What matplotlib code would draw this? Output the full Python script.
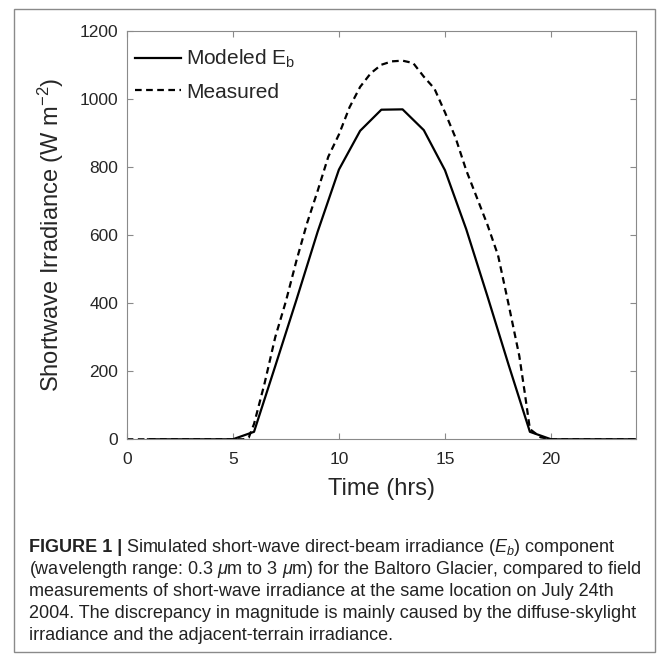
import numpy as np
import matplotlib
matplotlib.use('Agg')
from matplotlib import pyplot as plt
from matplotlib.patches import Rectangle

# hourly modeled direct-beam irradiance (W m-2)
hrs_model = [1, 2, 3, 4, 5, 6, 7, 8, 9, 10, 11, 12,
             13, 14, 15, 16, 17, 18, 19, 20, 21, 22, 23, 24]
eb_model = [0, 0, 0, 0, 0, 22, 215, 410, 610, 792, 906, 968,
            969, 908, 790, 617, 420, 218, 22, 0, 0, 0, 0, 0]

hrs_meas = [0, 1, 2, 3, 4, 5, 5.5, 5.75, 6, 6.5, 7, 7.5, 8, 8.5, 9, 9.5,
            10, 10.5, 11, 11.5, 12, 12.5, 13, 13.5, 14, 14.5, 15, 15.5,
            16, 16.5, 17, 17.5, 18, 18.5, 18.75, 19, 19.5, 20, 21, 22, 23, 24]
sw_meas = [0, 0, 0, 0, 0, 0, 0, 5, 45, 165, 300, 405, 525, 635, 730, 830,
           895, 975, 1035, 1075, 1100, 1110, 1112, 1105, 1065, 1030, 960, 885,
           790, 710, 630, 540, 395, 245, 140, 30, 6, 0, 0, 0, 0, 0]

xticks = [0, 5, 10, 15, 20]
yticks = [0, 200, 400, 600, 800, 1000, 1200]

caption = [
    'Simulated short-wave direct-beam irradiance ($E_b$) component',
    '(wavelength range: 0.3 $\\mu$m to 3 $\\mu$m) for the Baltoro Glacier, compared to field',
    'measurements of short-wave irradiance at the same location on July 24th',
    '2004. The discrepancy in magnitude is mainly caused by the diffuse-skylight',
    'irradiance and the adjacent-terrain irradiance.',
]

plt.rcParams['font.family'] = ['Liberation Sans', 'DejaVu Sans']
plt.rcParams['mathtext.fontset'] = 'custom'
plt.rcParams['mathtext.rm'] = 'Liberation Sans'
plt.rcParams['mathtext.it'] = 'Liberation Sans:italic'

W, H = 669, 664
fig = plt.figure(figsize=(W / 100, H / 100), dpi=100)
ax = fig.add_axes([126.7 / W, 1 - 439.3 / H, (636 - 126.7) / W, (439.3 - 30.7) / H])

ax.plot(hrs_model, eb_model, 'k-', lw=1.6, label='Modeled E$_{\\mathrm{b}}$')
ax.plot(hrs_meas, sw_meas, color='k', lw=1.6, ls=(0, (3, 2)), label='Measured')

ax.set_xlim(0, 24)
ax.set_ylim(0, 1200)
ax.set_xticks(xticks)
ax.set_yticks(yticks)

txtc = '#262626'
for s in ax.spines.values():
    s.set_color('#8a8a8a')
    s.set_linewidth(0.8)
ax.tick_params(direction='in', length=4, width=0.8, color='#8a8a8a',
               top=True, right=True, labelsize=12.5, labelcolor=txtc)
ax.tick_params(axis='x', pad=9)
ax.tick_params(axis='y', pad=6)

ax.set_xlabel('Time (hrs)', fontsize=17, color=txtc)
ax.set_ylabel('Shortwave Irradiance (W m$^{-2}$)', fontsize=17, color=txtc)
ax.xaxis.set_label_coords(0.5, -0.095)
ax.yaxis.set_label_coords(-0.12, 0.5)

leg = ax.legend(loc='upper left', bbox_to_anchor=(0.016, 0.958), frameon=False,
                fontsize=15, handlelength=2.2, handletextpad=0.25,
                labelspacing=0.6, borderpad=0, borderaxespad=0)
for t in leg.get_texts():
    t.set_color(txtc)

# caption below the chart
capfam = ['Liberation Sans Narrow', 'Liberation Sans']
capc = '#222222'
x0 = 29 / W
line_y = [548, 570, 592, 613, 635]
head = fig.text(x0, 1 - line_y[0] / H, 'FIGURE 1 |', fontsize=13, fontweight='bold',
                family=capfam, color=capc, va='center')
fig.canvas.draw()
bb = head.get_window_extent()
fig.text((bb.x1 + 4) / W, 1 - line_y[0] / H, caption[0], fontsize=13,
         family=capfam, color=capc, va='center')
for line, y in zip(caption[1:], line_y[1:]):
    fig.text(x0, 1 - y / H, line, fontsize=13, family=capfam, color=capc, va='center')

# thin frame around the whole figure
fig.patches.append(Rectangle((14 / W, 1 - 652 / H), (655 - 14) / W, (652 - 9) / H,
                             transform=fig.transFigure, fill=False,
                             edgecolor='#8a8a8a', lw=1))

plt.savefig('out.png', dpi=100)
